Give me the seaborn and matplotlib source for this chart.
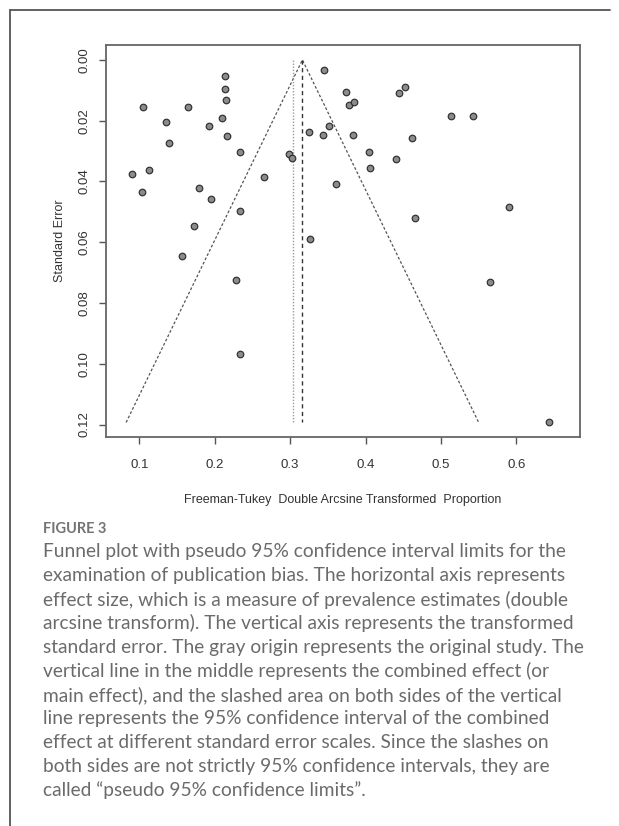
import matplotlib
matplotlib.use("Agg")
import matplotlib.pyplot as plt
import seaborn as sns
import pandas as pd
from matplotlib.lines import Line2D

# ---- data ----
effect = [0.214, 0.214, 0.215, 0.105, 0.165, 0.135, 0.210, 0.192, 0.216, 0.140,
          0.233, 0.298, 0.3025, 0.090, 0.113, 0.104, 0.265, 0.179, 0.195, 0.234,
          0.1725, 0.3255, 0.343, 0.351, 0.345, 0.361, 0.327, 0.3745, 0.3785, 0.385,
          0.445, 0.453, 0.384, 0.404, 0.406, 0.441, 0.462, 0.513, 0.542, 0.590,
          0.465, 0.156, 0.228, 0.234, 0.5655, 0.644]
std_err = [0.0054, 0.0095, 0.0133, 0.0155, 0.0155, 0.0206, 0.0192, 0.0216, 0.0250, 0.0273,
           0.0303, 0.0309, 0.0322, 0.0376, 0.0361, 0.0435, 0.0386, 0.0420, 0.0457, 0.0497,
           0.0548, 0.0238, 0.0248, 0.0216, 0.0034, 0.0410, 0.0590, 0.0105, 0.0149, 0.0137,
           0.0109, 0.0089, 0.0246, 0.0304, 0.0356, 0.0327, 0.0257, 0.0184, 0.0184, 0.0483,
           0.0521, 0.0647, 0.0724, 0.0969, 0.0731, 0.1193]
pooled_estimate = 0.3163      # dashed line / funnel centre
fixed_estimate = 0.3034       # dotted line
z_value = 1.96
x_ticks = [0.1, 0.2, 0.3, 0.4, 0.5, 0.6]
y_ticks = [0.00, 0.02, 0.04, 0.06, 0.08, 0.10, 0.12]
x_label = "Freeman-Tukey  Double Arcsine Transformed  Proportion"
y_label = "Standard Error"
caption_title = "FIGURE 3"
caption_lines = [
    "Funnel plot with pseudo 95% confidence interval limits for the",
    "examination of publication bias. The horizontal axis represents",
    "effect size, which is a measure of prevalence estimates (double",
    "arcsine transform). The vertical axis represents the transformed",
    "standard error. The gray origin represents the original study. The",
    "vertical line in the middle represents the combined effect (or",
    "main effect), and the slashed area on both sides of the vertical",
    "line represents the 95% confidence interval of the combined",
    "effect at different standard error scales. Since the slashes on",
    "both sides are not strictly 95% confidence intervals, they are",
    "called \u201cpseudo 95% confidence limits\u201d.",
]

df = pd.DataFrame({"effect": effect, "se": std_err})
se_max = max(std_err)
funnel = pd.DataFrame({
    "x": [pooled_estimate - z_value * se_max, pooled_estimate, pooled_estimate + z_value * se_max],
    "y": [se_max, 0.0, se_max],
})

sns.set_theme(style="white")
plt.rcParams["font.family"] = ["Liberation Sans", "DejaVu Sans"]

W, H = 619, 826
fig = plt.figure(figsize=(W / 100, H / 100), dpi=100)
fig.patch.set_facecolor("white")

L, R, T, B = 106, 580, 44.7, 437
ax = fig.add_axes([L / W, 1 - B / H, (R - L) / W, (B - T) / H])

# funnel lines
sns.lineplot(data=funnel, x="x", y="y", ax=ax, color="#555555", lw=0.9,
             linestyle=(0, (2.2, 1.6)), sort=False, estimator=None)
ax.plot([fixed_estimate, fixed_estimate], [0, se_max], color="#999999", lw=1.0,
        linestyle=(0, (1, 1.2)))
ax.plot([pooled_estimate, pooled_estimate], [0, se_max], color="#333333", lw=1.0,
        linestyle=(0, (3, 2.5)))

sns.scatterplot(data=df, x="effect", y="se", ax=ax, s=22, color="#8c8c8c",
                edgecolor="#333333", linewidth=0.9, zorder=5)

ax.set_xlim(0.0558, 0.6845)
ax.set_ylim(0.1241, -0.0050)
ax.set_xticks(x_ticks)
ax.set_xticklabels([f"{v:.1f}" for v in x_ticks])
ax.set_yticks(y_ticks)
ax.set_yticklabels([f"{v:.2f}" for v in y_ticks], rotation=90, va="center")

for sp in ax.spines.values():
    sp.set_color("#666666")
    sp.set_linewidth(1.3)
ax.tick_params(axis="both", which="both", direction="out", length=5, width=1.0,
               color="#555555", labelsize=9.5, labelcolor="#333333",
               bottom=True, left=True, top=False, right=False)
ax.tick_params(axis="x", pad=11)
ax.tick_params(axis="y", pad=6)

ax.set_xlabel(x_label, fontsize=9, color="#333333")
ax.set_ylabel(y_label, fontsize=9, color="#333333")
ax.xaxis.label.set_va("center")
ax.yaxis.label.set_va("center")
ax.xaxis.set_label_coords(0.5, (B - 500) / (B - T))
ax.yaxis.set_label_coords((60 - L) / (R - L), 0.5)

# page frame
fig.add_artist(Line2D([10 / W, 610 / W], [1 - 10 / H, 1 - 10 / H],
                      transform=fig.transFigure, color="#555555", lw=1.3))
fig.add_artist(Line2D([10 / W, 10 / W], [1 - 10 / H, 0],
                      transform=fig.transFigure, color="#555555", lw=1.3))

# caption
cap_font = ["Lato", "DejaVu Sans"]
fig.text(43 / W, 1 - 529 / H, caption_title, fontsize=10.5, fontweight="bold",
         color="#747474", family=cap_font, va="center", ha="left")
y0, dy = 552, 23.8
for i, line in enumerate(caption_lines):
    fig.text(43 / W, 1 - (y0 + i * dy) / H, line, fontsize=13.8, color="#6b6b6b",
             family=cap_font, va="center", ha="left")

fig.savefig("out.png", dpi=100, facecolor="white")
